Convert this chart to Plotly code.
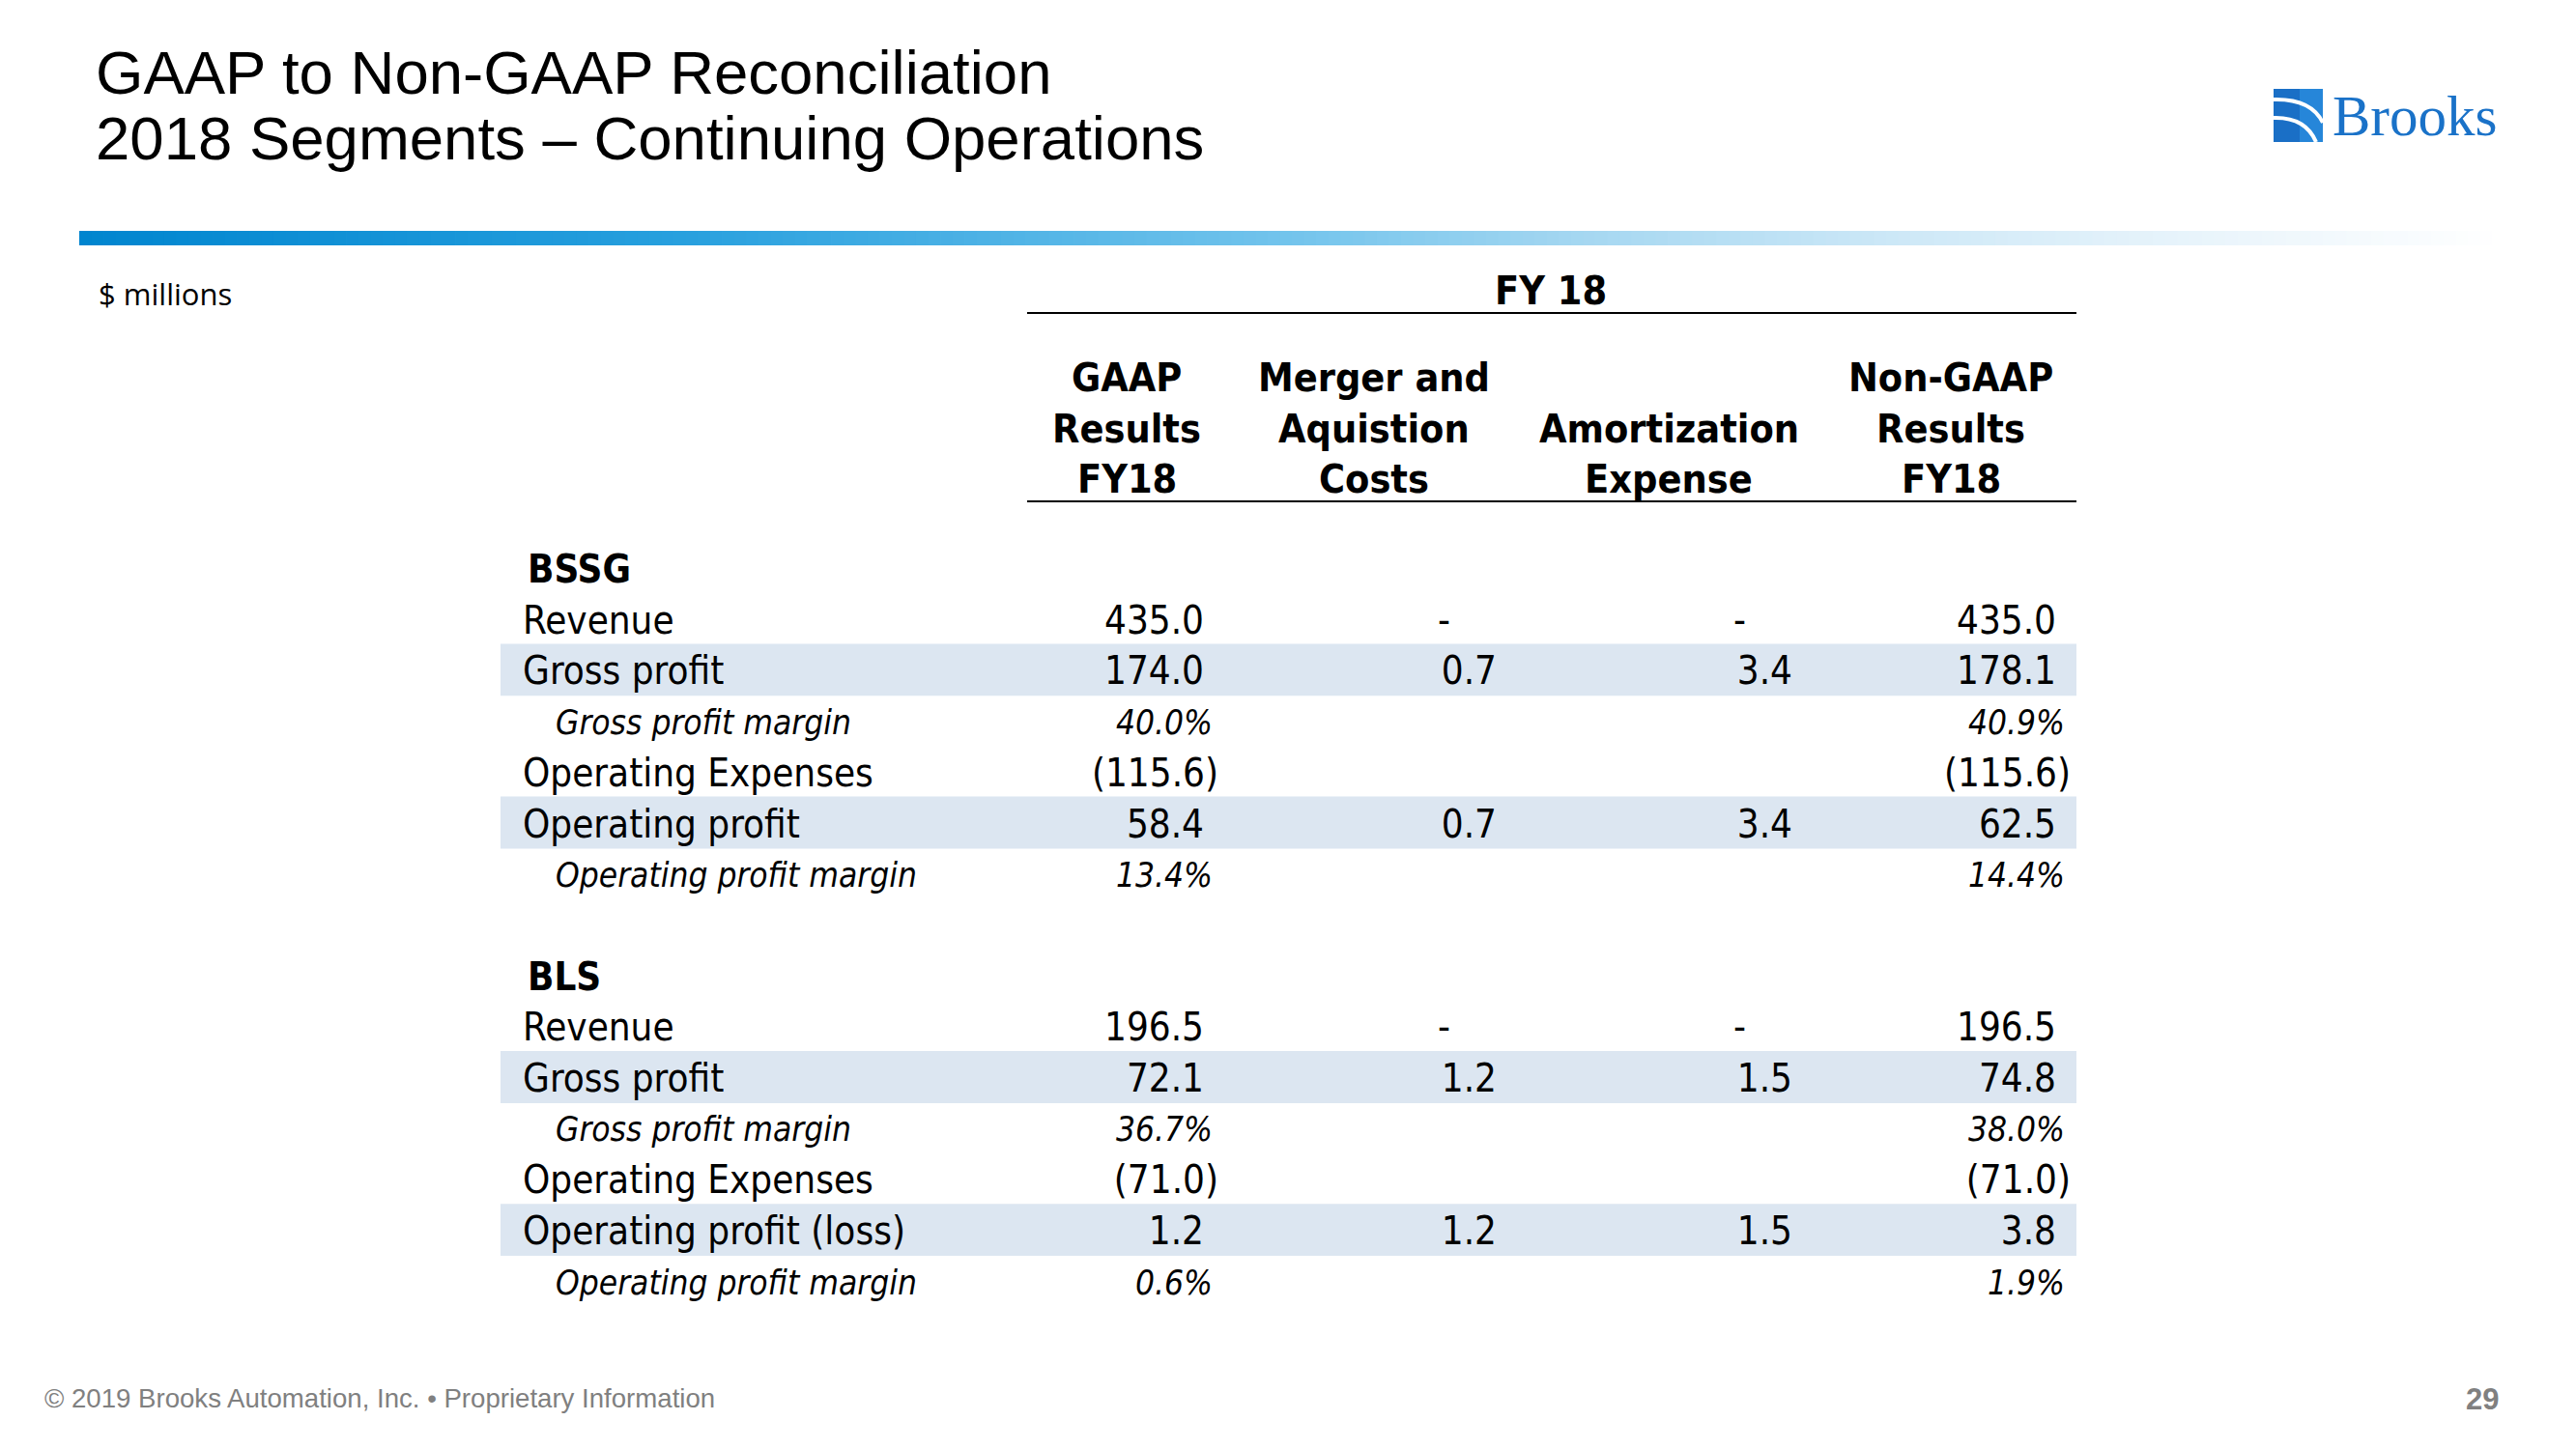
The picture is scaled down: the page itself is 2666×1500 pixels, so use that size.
import plotly.graph_objects as go

# ---------------- data ----------------
title_lines = ["GAAP to Non-GAAP Reconciliation", "2018 Segments \u2013 Continuing Operations"]
units_label = "$ millions"
period_label = "FY 18"
col_headers = [["GAAP", "Results", "FY18"],
               ["Merger and", "Aquistion", "Costs"],
               ["", "Amortization", "Expense"],
               ["Non-GAAP", "Results", "FY18"]]

row_labels = ["BSSG", "Revenue", "Gross profit", "Gross profit margin", "Operating Expenses",
              "Operating profit", "Operating profit margin", "",
              "BLS", "Revenue", "Gross profit", "Gross profit margin", "Operating Expenses",
              "Operating profit (loss)", "Operating profit margin"]
row_kinds = ["seg", "row", "band", "pct", "row", "band", "pct", "blank",
             "seg", "row", "band", "pct", "row", "band", "pct"]

gaap_fy18 = [None, 435.0, 174.0, 40.0, -115.6, 58.4, 13.4, None,
             None, 196.5, 72.1, 36.7, -71.0, 1.2, 0.6]
merger_acq = [None, 0.0, 0.7, None, None, 0.7, None, None,
              None, 0.0, 1.2, None, None, 1.2, None]
amortization = [None, 0.0, 3.4, None, None, 3.4, None, None,
                None, 0.0, 1.5, None, None, 1.5, None]
non_gaap_fy18 = [None, 435.0, 178.1, 40.9, -115.6, 62.5, 14.4, None,
                 None, 196.5, 74.8, 38.0, -71.0, 3.8, 1.9]

footer_text = "\u00a9 2019 Brooks Automation, Inc. \u2022 Proprietary Information"
page_number = "29"
logo_text = "Brooks"

# ---------------- layout geometry ----------------
W, H = 2666, 1500
OFF = 8  # page body margin
ROW0, ROWSTEP = 588, 52.7
TEXT_DY = 5 / ROWSTEP  # baseline correction for text marks


def ry(p):
    return (p - ROW0) / ROWSTEP


TFONT = "DejaVu Sans Condensed, DejaVu Sans, sans-serif"
TSIZE = 40
HSIZE = 41
PSIZE = 35
col_right = [1246, 1549, 1855, 2128]
col_center = [1166, 1422, 1727, 2019]
band_x = (518, 2149)

fig = go.Figure()


def fmt(v, kind):
    if v is None:
        return ""
    if kind == "pct":
        return "<i>%.1f%%</i>" % v
    if v == 0:
        return "-"
    if v < 0:
        return "(%.1f)" % abs(v)
    return "%.1f" % v


def xpos(v, kind, cx):
    if v is None:
        return cx
    if kind == "pct":
        return cx + 9
    if v == 0:
        return cx - 48
    if v < 0:
        return cx + 15
    return cx


rows = [i + TEXT_DY for i in range(len(row_labels))]

# label column
lab_text, lab_x, lab_size = [], [], []
for lbl, k in zip(row_labels, row_kinds):
    if k == "seg":
        lab_text.append("<b>%s</b>" % lbl); lab_x.append(546); lab_size.append(TSIZE)
    elif k == "pct":
        lab_text.append("<i>%s</i>" % lbl); lab_x.append(575); lab_size.append(PSIZE)
    else:
        lab_text.append(lbl); lab_x.append(541); lab_size.append(TSIZE)
fig.add_trace(go.Scatter(x=lab_x, y=rows, text=lab_text, mode="text",
                         textposition="middle right",
                         textfont=dict(family=TFONT, size=lab_size, color="#000000"),
                         hoverinfo="skip", showlegend=False))

for series, cx in zip([gaap_fy18, merger_acq, amortization, non_gaap_fy18], col_right):
    txt = [fmt(v, k) for v, k in zip(series, row_kinds)]
    xs = [xpos(v, k, cx) for v, k in zip(series, row_kinds)]
    sz = [PSIZE if k == "pct" else TSIZE for k in row_kinds]
    fig.add_trace(go.Scatter(x=xs, y=rows, text=txt, mode="text",
                             textposition="middle left",
                             textfont=dict(family=TFONT, size=sz, color="#000000"),
                             hoverinfo="skip", showlegend=False))

shapes = []
# shaded bands
for i, k in enumerate(row_kinds):
    if k == "band":
        shapes.append(dict(type="rect", xref="x", yref="y", x0=band_x[0], x1=band_x[1],
                           y0=i - 0.51, y1=i + 0.51, fillcolor="#DCE6F1",
                           line=dict(width=0), layer="below"))
# header rules
for p in (324, 519):
    shapes.append(dict(type="line", xref="x", yref="y", x0=1063, x1=2149, y0=ry(p), y1=ry(p),
                       line=dict(color="#000000", width=2)))

# gradient bar
stops = [(0.0, (0, 133, 207)), (0.25, (40, 160, 222)), (0.5, (115, 196, 236)),
         (0.62, (165, 215, 241)), (0.75, (205, 232, 247)), (0.87, (232, 244, 251)),
         (1.0, (255, 255, 255))]


def grad(t):
    for (t0, c0), (t1, c1) in zip(stops[:-1], stops[1:]):
        if t <= t1:
            f = (t - t0) / (t1 - t0)
            return "rgb(%d,%d,%d)" % tuple(round(a + (b - a) * f) for a, b in zip(c0, c1))
    return "rgb(255,255,255)"


bx0, bx1, nseg = 82, 2592, 200
dx = (bx1 - bx0) / nseg
for s in range(nseg):
    shapes.append(dict(type="rect", xref="x", yref="y", x0=bx0 + s * dx, x1=bx0 + (s + 1) * dx + 0.8,
                       y0=ry(239), y1=ry(254), fillcolor=grad((s + 0.5) / nseg),
                       line=dict(width=0)))

# logo icon
shapes.append(dict(type="rect", xref="x", yref="y", x0=2353, x1=2404, y0=ry(92), y1=ry(147),
                   fillcolor="#1a6fc6", line=dict(width=0)))
shapes.append(dict(type="rect", xref="x", yref="y", x0=2380, x1=2404, y0=ry(92), y1=ry(147),
                   fillcolor="#2686d9", line=dict(width=0)))


def path(pts):
    (x0, y0), (cx, cy), (x1, y1) = pts
    return "M %f,%f Q %f,%f %f,%f" % (x0, ry(y0), cx, ry(cy), x1, ry(y1))


shapes.append(dict(type="path", xref="x", yref="y", path=path([(2353, 103), (2392, 102), (2404, 127)]),
                   line=dict(color="white", width=4)))
shapes.append(dict(type="path", xref="x", yref="y", path=path([(2353, 122), (2386, 121), (2397, 147)]),
                   line=dict(color="white", width=4)))

annotations = []
# title
for txt, p in zip(title_lines, (75, 143)):
    annotations.append(dict(x=97, y=ry(p), xref="x", yref="y", text=txt, showarrow=False,
                            xanchor="left", yanchor="middle",
                            font=dict(family="Liberation Sans, Arial, sans-serif", size=63.5, color="#000000")))
# logo text
annotations.append(dict(x=2412, y=ry(120), xref="x", yref="y", text=logo_text, showarrow=False,
                        xanchor="left", yanchor="middle",
                        font=dict(family="Liberation Serif, serif", size=59, color="#1a72c8")))
# units
annotations.append(dict(x=100, y=ry(304), xref="x", yref="y", text=units_label, showarrow=False,
                        xanchor="left", yanchor="middle",
                        font=dict(family="Open Sans, Noto Sans, sans-serif", size=31, color="#000000")))
# period
annotations.append(dict(x=1605, y=ry(301), xref="x", yref="y", text="<b>%s</b>" % period_label,
                        showarrow=False, xanchor="center", yanchor="middle",
                        font=dict(family=TFONT, size=HSIZE, color="#000000")))
# column headers
for hdr, cx in zip(col_headers, col_center):
    for j, line in enumerate(hdr):
        if line:
            annotations.append(dict(x=cx, y=ry(391 + 52.7 * j), xref="x", yref="y",
                                    text="<b>%s</b>" % line, showarrow=False,
                                    xanchor="center", yanchor="middle",
                                    font=dict(family=TFONT, size=HSIZE, color="#000000")))
# footer
annotations.append(dict(x=44, y=ry(1447), xref="x", yref="y", text=footer_text, showarrow=False,
                        xanchor="left", yanchor="middle",
                        font=dict(family="Liberation Sans, Arial, sans-serif", size=27.6, color="#808080")))
annotations.append(dict(x=2569, y=ry(1448), xref="x", yref="y", text="<b>%s</b>" % page_number,
                        showarrow=False, xanchor="center", yanchor="middle",
                        font=dict(family="Liberation Sans, Arial, sans-serif", size=31, color="#808080")))

fig.update_layout(
    width=W - OFF, height=H - OFF, margin=dict(l=0, r=0, t=0, b=0),
    paper_bgcolor="white", plot_bgcolor="white",
    xaxis=dict(range=[OFF, W], visible=False, fixedrange=True),
    yaxis=dict(range=[ry(H), ry(OFF)], visible=False, fixedrange=True),
    shapes=shapes, annotations=annotations, showlegend=False,
)

fig.write_html("out.html")
